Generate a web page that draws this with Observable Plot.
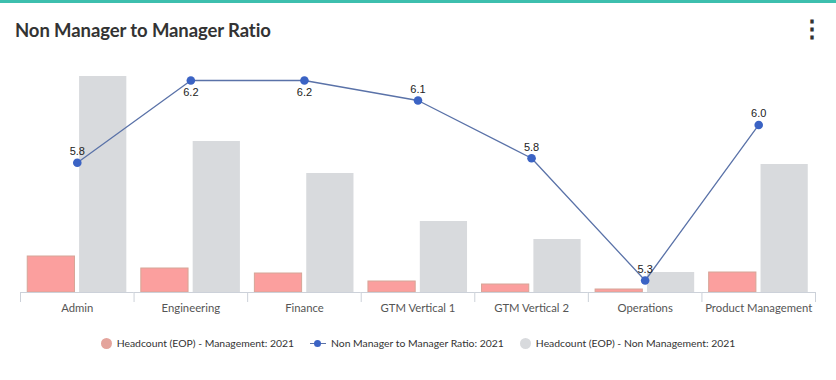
<!DOCTYPE html>
<html>
<head>
<meta charset="utf-8">
<script src="https://cdn.jsdelivr.net/npm/d3@7"></script>
<script src="https://cdn.jsdelivr.net/npm/@observablehq/plot@0.6"></script>
<style>
  html, body { margin: 0; padding: 0; background: #fff; }
  #wrap { position: relative; width: 836px; height: 380px; overflow: hidden; font-family: Lato, "Open Sans", sans-serif; }
  #stripe { position: absolute; left: 0; top: 0; width: 836px; height: 3px; background: #3dbfae; }
  #title { position: absolute; left: 15px; top: 19px; font-size: 18.5px; font-weight: 700; color: #333; letter-spacing: -0.1px; }
  #menu { position: absolute; left: 800px; top: 16px; font-size: 24px; font-weight: 700; color: #333; line-height: 1; }
  .layer { position: absolute; left: 0; top: 0; }
  #legend { position: absolute; left: 0; top: 337px; width: 836px; display: flex; justify-content: center; gap: 16px; font-size: 10.4px; color: #333; }
  .item { display: flex; align-items: center; gap: 5px; }
  .sw { display: inline-block; width: 11px; height: 11px; border-radius: 50%; }
  .lsw { position: relative; display: inline-block; width: 16px; height: 11px; }
  .lsw::before { content: ""; position: absolute; left: 0; right: 0; top: 5px; height: 1px; background: #5a72a8; }
  .lsw::after { content: ""; position: absolute; left: 4px; top: 2px; width: 7px; height: 7px; border-radius: 50%; background: #3b63c4; }
</style>
</head>
<body>
<div id="wrap">
  <div id="stripe"></div>
  <div id="title">Non Manager to Manager Ratio</div>
  <div id="menu">⋮</div>
  <div id="bars" class="layer"></div>
  <div id="line" class="layer"></div>
  <div id="legend"></div>
</div>
<script>
const categories = ["Admin", "Engineering", "Finance", "GTM Vertical 1", "GTM Vertical 2", "Operations", "Product Management"];
const management = [36, 24, 19, 11, 8, 3, 20];
const nonManagement = [216, 151, 119, 71, 53, 20, 128];
const ratio = [5.83, 6.2, 6.2, 6.11, 5.85, 5.3, 6.0];
const seriesNames = ["Headcount (EOP) - Management: 2021", "Non Manager to Manager Ratio: 2021", "Headcount (EOP) - Non Management: 2021"];
const colors = { mgmt: "#fb9f9e", mgmtStroke: "#d6a597", non: "#d8dadd", line: "#5a72a8", dot: "#3b63c4", axis: "#ccd1d9" };

const W = 836, H = 320;
const margins = { marginLeft: 20, marginRight: 21, marginTop: 76, marginBottom: 28 };

const rows = categories.flatMap((c, i) => [
  { category: c, series: seriesNames[0], value: management[i] },
  { category: c, series: seriesNames[2], value: nonManagement[i] }
]);

const bars = Plot.plot({
  width: W, height: H, ...margins,
  fx: { domain: categories, padding: 0, round: false, axis: null },
  x: { domain: [seriesNames[0], seriesNames[2]], paddingInner: 0.07, paddingOuter: 0.13, round: false, axis: null },
  y: { domain: [0, d3.max(nonManagement)], axis: null },
  color: { domain: [seriesNames[0], seriesNames[2]], range: [colors.mgmt, colors.non] },
  marks: [
    Plot.barY(rows, {
      fx: "category", x: "series", y: "value", fill: "series",
      stroke: colors.mgmtStroke,
      strokeOpacity: d => d.series === seriesNames[0] ? 1 : 0,
      insetLeft: 0.5, insetRight: 0.5
    }),
    Plot.ruleY([0], { stroke: colors.axis })
  ]
});
document.getElementById("bars").appendChild(bars);

const edges = d3.range(categories.length + 1).map(i => i - 0.5);
const maxRatio = d3.max(ratio);

const line = Plot.plot({
  width: W, height: H, ...margins,
  style: { background: "transparent", fontFamily: "Lato, 'Open Sans', sans-serif", fontSize: "11px", color: colors.axis },
  x: { domain: [-0.5, categories.length - 0.5], ticks: edges, tickSize: 10, tickFormat: () => "", label: null },
  y: { domain: [5.3, 6.2], range: [280, 80], axis: null },
  marks: [
    Plot.text(categories, { x: (d, i) => i, text: d => d, frameAnchor: "bottom", dy: 19, fill: "#555", fontSize: 11.3 }),
    Plot.lineY(ratio, { x: (d, i) => i, y: d => d, stroke: colors.line, strokeWidth: 1.3 }),
    Plot.dot(ratio, { x: (d, i) => i, y: d => d, r: 4.3, fill: colors.dot }),
    Plot.text(ratio, { x: (d, i) => i, y: d => d, text: d => d.toFixed(1), filter: d => d < maxRatio, dy: -11, fill: "#222", fontSize: 11, fontFamily: "Liberation Sans, Arial, sans-serif" }),
    Plot.text(ratio, { x: (d, i) => i, y: d => d, text: d => d.toFixed(1), filter: d => d >= maxRatio, dy: 12, fill: "#222", fontSize: 11, fontFamily: "Liberation Sans, Arial, sans-serif" })
  ]
});
document.getElementById("line").appendChild(line);

const legend = document.getElementById("legend");
const items = [
  { name: seriesNames[0], kind: "circle", color: "#e4a49c" },
  { name: seriesNames[1], kind: "line" },
  { name: seriesNames[2], kind: "circle", color: colors.non }
];
for (const it of items) {
  const el = document.createElement("div");
  el.className = "item";
  const sw = document.createElement("span");
  if (it.kind === "circle") { sw.className = "sw"; sw.style.background = it.color; }
  else sw.className = "lsw";
  const t = document.createElement("span");
  t.textContent = it.name;
  el.appendChild(sw); el.appendChild(t);
  legend.appendChild(el);
}
</script>
</body>
</html>
